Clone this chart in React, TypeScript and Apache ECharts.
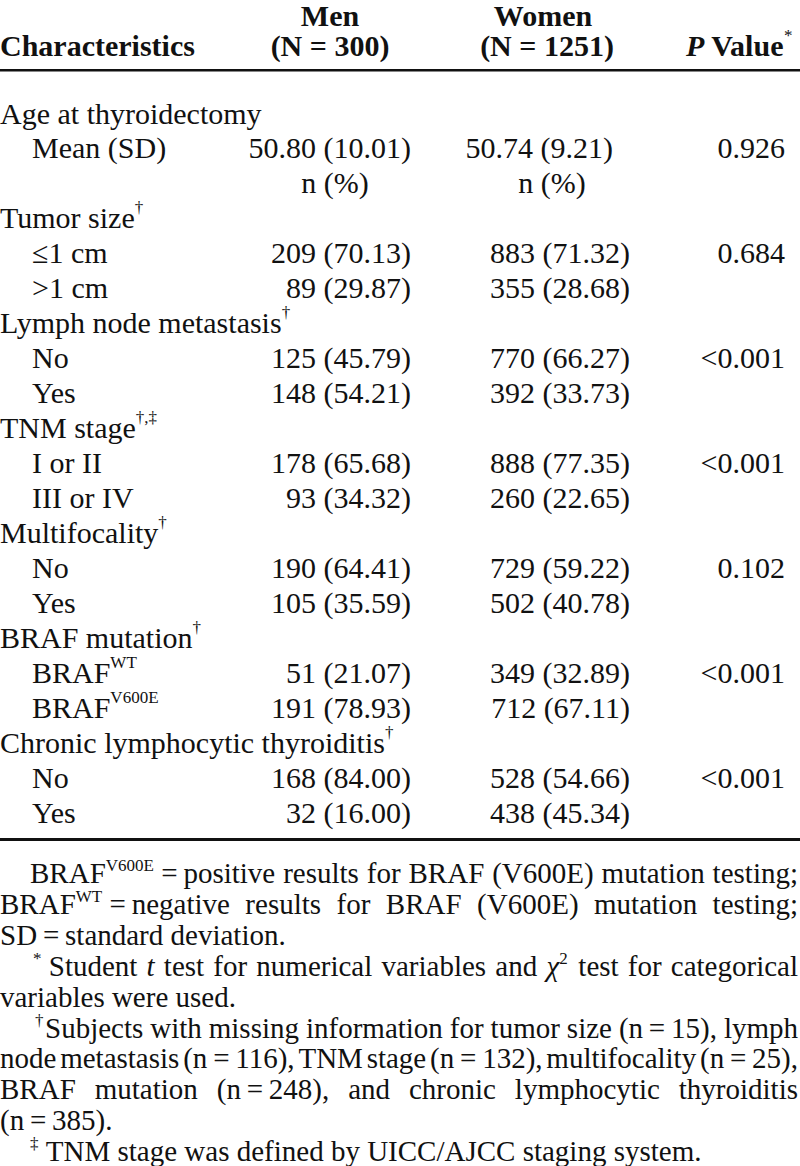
import React, { useEffect, useRef } from "react";
import * as echarts from "echarts";

// ---------- data ----------
const groupNames = ["Men", "Women"];
const groupN = ["(N = 300)", "(N = 1251)"];
const firstHeader = "Characteristics";

const rowLabels = [
  "Age at thyroidectomy", "Mean (SD)", "", "Tumor size", "\u22641 cm", ">1 cm",
  "Lymph node metastasis", "No", "Yes", "TNM stage", "I or II", "III or IV",
  "Multifocality", "No", "Yes", "BRAF mutation", "BRAF", "BRAF",
  "Chronic lymphocytic thyroiditis", "No", "Yes",
];
const rowLabelSup = [
  "", "", "", "\u2020", "", "", "\u2020", "", "", "\u2020,\u2021", "", "",
  "\u2020", "", "", "\u2020", "WT", "V600E", "\u2020", "", "",
];
const rowIndent = [0, 1, 0, 0, 1, 1, 0, 1, 1, 0, 1, 1, 0, 1, 1, 0, 1, 1, 0, 1, 1];
const menValues = [
  "", "50.80 (10.01)", "n (%)", "", "209 (70.13)", "89 (29.87)", "", "125 (45.79)", "148 (54.21)",
  "", "178 (65.68)", "93 (34.32)", "", "190 (64.41)", "105 (35.59)", "", "51 (21.07)", "191 (78.93)",
  "", "168 (84.00)", "32 (16.00)",
];
const womenValues = [
  "", "50.74 (9.21)", "n (%)", "", "883 (71.32)", "355 (28.68)", "", "770 (66.27)", "392 (33.73)",
  "", "888 (77.35)", "260 (22.65)", "", "729 (59.22)", "502 (40.78)", "", "349 (32.89)", "712 (67.11)",
  "", "528 (54.66)", "438 (45.34)",
];
const pValues = [
  "", "0.926", "", "", "0.684", "", "", "<0.001", "", "", "<0.001", "", "", "0.102", "", "",
  "<0.001", "", "", "<0.001", "",
];

// footnotes: {s:..} superscript, {i:..} italic; spaces separate words (stretched when justified)
const T = "\u2009";
const footText = [
  `BRAF{s:V600E}${T}=${T}positive results for BRAF (V600E) mutation testing;`,
  `BRAF{s:WT}${T}=${T}negative results for BRAF (V600E) mutation testing;`,
  `SD${T}=${T}standard deviation.`,
  `{s:*}${T}Student {i:t} test for numerical variables and {i:\u03c7}{s:2} test for categorical`,
  `variables were used.`,
  `{s:\u2020}Subjects with missing information for tumor size (n${T}=${T}15), lymph`,
  `node metastasis (n${T}=${T}116), TNM stage (n${T}=${T}132), multifocality (n${T}=${T}25),`,
  `BRAF mutation (n${T}=${T}248), and chronic lymphocytic thyroiditis`,
  `(n${T}=${T}385).`,
  `{s:\u2021}${T}TNM stage was defined by UICC/AJCC staging system.`,
];
const footIndent = [30, 0, 0, 33, 0, 35, 0, 0, 0, 30];
const footJustify = [true, true, false, true, false, true, true, true, false, false];

// ---------- layout ----------
const W = 800;
const H = 1166;
const FONT = '"Liberation Serif", "Times New Roman", Times, serif';
const INK = "#111111";
const BODY = 30;
const FOOT = 29;
const ROW0 = 113;
const ROWH = 34.95;
const LABEL_INDENT = 32;
const MEN_RIGHT = 411;
const MEN_CENTER = 335;
const WOMEN_RIGHT = 630;
const WOMEN_MEAN_RIGHT = 613;
const WOMEN_CENTER = 552;
const P_RIGHT = 785;
const FOOT_Y0 = 873;
const FOOT_LH = 30.9;
const FOOT_RIGHT = 798;
const TSUP = 17;
const TRAISE = 10;

type Seg = { t: string; sup?: boolean; it?: boolean; bold?: boolean };

let ctx: CanvasRenderingContext2D | null = null;
function measure(t: string, size: number, bold?: boolean, it?: boolean) {
  if (!ctx) ctx = document.createElement("canvas").getContext("2d");
  ctx!.font = `${it ? "italic " : ""}${bold ? "bold " : ""}${size}px ${FONT}`;
  return ctx!.measureText(t).width;
}

function parse(word: string): Seg[] {
  const out: Seg[] = [];
  const re = /\{(s|i):([^}]*)\}/g;
  let last = 0;
  let m: RegExpExecArray | null;
  while ((m = re.exec(word))) {
    if (m.index > last) out.push({ t: word.slice(last, m.index) });
    out.push(m[1] === "s" ? { t: m[2], sup: true } : { t: m[2], it: true });
    last = m.index + m[0].length;
  }
  if (last < word.length) out.push({ t: word.slice(last) });
  return out;
}

function segAdvance(s: Seg, size: number, supSize: number) {
  const sz = s.sup ? supSize : size;
  return measure(s.t, sz, s.bold, s.it) + (s.sup ? 1.5 : 0);
}
function wordWidth(w: Seg[], size: number, supSize: number) {
  return w.reduce((a, s) => a + segAdvance(s, size, supSize), 0);
}

function textEl(x: number, y: number, s: Seg, size: number) {
  return {
    type: "text",
    x,
    y,
    silent: true,
    style: {
      text: s.t,
      fill: INK,
      fontSize: size,
      fontFamily: FONT,
      fontWeight: s.bold ? "bold" : "normal",
      fontStyle: s.it ? "italic" : "normal",
      align: "left",
      verticalAlign: "middle",
    },
  };
}

function drawWord(els: any[], w: Seg[], x: number, y: number, size: number, supSize: number, raise: number) {
  let cx = x;
  for (const s of w) {
    const sz = s.sup ? supSize : size;
    els.push(textEl(cx, s.sup ? y - raise : y, s, sz));
    cx += segAdvance(s, size, supSize);
  }
}

function drawAligned(
  els: any[], w: Seg[], anchor: number, align: "left" | "right" | "center",
  y: number, size: number, supSize: number, raise: number
) {
  const ww = wordWidth(w, size, supSize);
  const x = align === "left" ? anchor : align === "right" ? anchor - ww : anchor - ww / 2;
  drawWord(els, w, x, y, size, supSize, raise);
}

function buildElements() {
  const els: any[] = [];
  els.push({ type: "rect", shape: { x: 0, y: 0, width: W, height: H }, style: { fill: "#ffffff" }, silent: true });

  // header
  const hy1 = 15;
  const hy2 = 45.5;
  drawAligned(els, [{ t: groupNames[0], bold: true }], 330, "center", hy1, BODY, TSUP, 0);
  drawAligned(els, [{ t: groupN[0], bold: true }], 330, "center", hy2, BODY, TSUP, 0);
  drawAligned(els, [{ t: groupNames[1], bold: true }], 543, "center", hy1, BODY, TSUP, 0);
  drawAligned(els, [{ t: groupN[1], bold: true }], 547, "center", hy2, BODY, TSUP, 0);
  drawAligned(els, [{ t: firstHeader, bold: true }], 0, "left", hy2, BODY, TSUP, 0);
  drawAligned(
    els,
    [{ t: "P", bold: true, it: true }, { t: " Value", bold: true }, { t: "*", sup: true }],
    794, "right", hy2, BODY, TSUP, TRAISE
  );

  // rules
  els.push({ type: "rect", shape: { x: 0, y: 69, width: W, height: 2.5 }, style: { fill: INK }, silent: true });
  els.push({ type: "rect", shape: { x: 0, y: 838, width: W, height: 3 }, style: { fill: INK }, silent: true });

  // body rows
  rowLabels.forEach((lab, i) => {
    const y = ROW0 + i * ROWH;
    if (lab) {
      const w: Seg[] = [{ t: lab }];
      if (rowLabelSup[i]) w.push({ t: rowLabelSup[i], sup: true });
      drawAligned(els, w, rowIndent[i] ? LABEL_INDENT : 0, "left", y, BODY, TSUP, TRAISE);
    }
    const mv = menValues[i];
    if (mv) {
      if (mv === "n (%)") drawAligned(els, [{ t: mv }], MEN_CENTER, "center", y, BODY, TSUP, 0);
      else drawAligned(els, [{ t: mv }], MEN_RIGHT, "right", y, BODY, TSUP, 0);
    }
    const wv = womenValues[i];
    if (wv) {
      if (wv === "n (%)") drawAligned(els, [{ t: wv }], WOMEN_CENTER, "center", y, BODY, TSUP, 0);
      else drawAligned(els, [{ t: wv }], i === 1 ? WOMEN_MEAN_RIGHT : WOMEN_RIGHT, "right", y, BODY, TSUP, 0);
    }
    if (pValues[i]) drawAligned(els, [{ t: pValues[i] }], P_RIGHT, "right", y, BODY, TSUP, 0);
  });

  // footnotes
  const FSUP = 17;
  const FRAISE = 7.5;
  footText.forEach((line, i) => {
    const y = FOOT_Y0 + i * FOOT_LH;
    const words = line.split(" ").map(parse);
    const widths = words.map((w) => wordWidth(w, FOOT, FSUP));
    const x0 = footIndent[i];
    let gap = measure(" ", FOOT);
    if (footJustify[i] && words.length > 1) {
      const total = widths.reduce((a, b) => a + b, 0);
      gap = (FOOT_RIGHT - x0 - total) / (words.length - 1);
    }
    let x = x0;
    words.forEach((w, k) => {
      drawWord(els, w, x, y, FOOT, FSUP, FRAISE);
      x += widths[k] + gap;
    });
  });

  return els;
}

export default function App() {
  const ref = useRef<HTMLDivElement>(null);
  useEffect(() => {
    document.body.style.margin = "0";
    const chart = echarts.init(ref.current!, null, { renderer: "svg", width: W, height: H });
    chart.setOption({
      animation: false,
      backgroundColor: "#ffffff",
      graphic: { elements: buildElements() },
    });
    return () => chart.dispose();
  }, []);
  return <div ref={ref} style={{ position: "absolute", left: 0, top: 0, width: W, height: H }} />;
}
